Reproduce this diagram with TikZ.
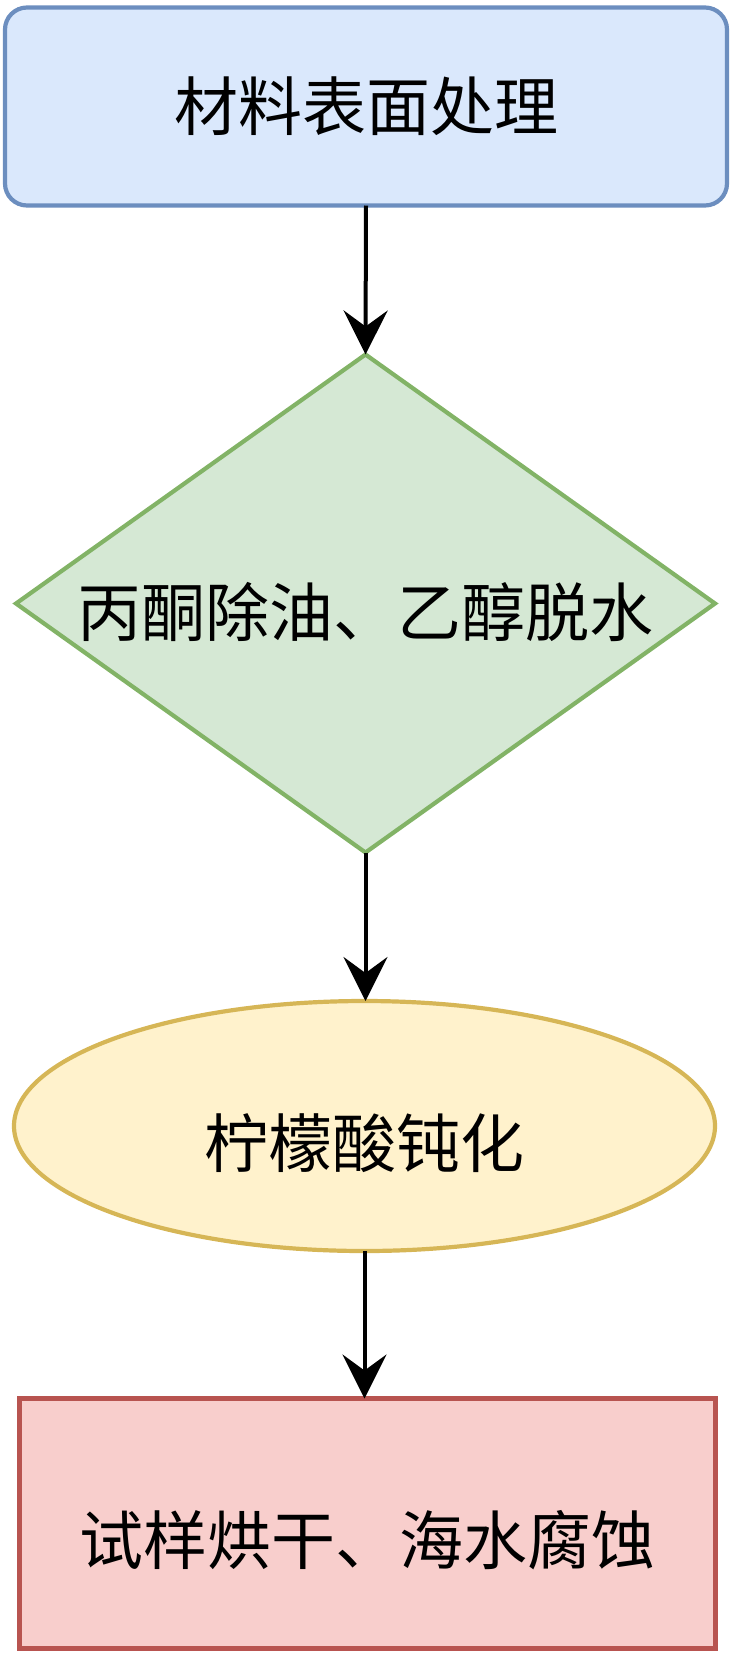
\documentclass[tikz,border=0pt]{standalone}
\usepackage{fontspec}
\newfontfamily\cjk{Noto Sans CJK SC}
\usetikzlibrary{shapes.geometric,arrows.meta}
\definecolor{bfill}{HTML}{DAE8FC}\definecolor{bline}{HTML}{6C8EBF}
\definecolor{gfill}{HTML}{D5E8D4}\definecolor{gline}{HTML}{82B366}
\definecolor{yfill}{HTML}{FFF2CC}\definecolor{yline}{HTML}{D6B656}
\definecolor{rfill}{HTML}{F8CECC}\definecolor{rline}{HTML}{B85450}
\tikzset{
  shapebox/.style={line width=4.2pt, inner sep=0pt, outer sep=0pt},
  lbl/.style={font=\cjk\fontsize{64}{76}\selectfont, text=black, inner sep=0pt},
  arr/.style={line width=4pt, -{Stealth[length=44pt, width=44pt, inset=16pt]}},
}
\begin{document}
\begin{tikzpicture}[x=1pt, y=-1pt]
\useasboundingbox (0,0) rectangle (736,1671);
\node[shapebox, rectangle, rounded corners=22pt, draw=bline, fill=bfill,
  minimum width=722pt, minimum height=198pt,
  label={[lbl, name=t1]center:材料表面处理}] (r1) at (366,106.5) {};
\node[shapebox, diamond, draw=gline, fill=gfill,
  minimum width=699pt, minimum height=498pt,
  label={[lbl, name=t2, yshift=-8pt]center:丙酮除油、乙醇脱水}] (d) at (365.5,603.5) {};
\node[shapebox, ellipse, draw=yline, fill=yfill,
  minimum width=701pt, minimum height=250pt,
  label={[lbl, name=t3, yshift=-17pt]center:柠檬酸钝化}] (e) at (364.5,1126) {};
\node[shapebox, rectangle, draw=rline, fill=rfill,
  minimum width=696pt, minimum height=250pt,
  label={[lbl, name=t4, yshift=-17pt]center:试样烘干、海水腐蚀}] (r2) at (367.5,1523.5) {};
\draw[arr] (r1.south) -- (d.north);
\draw[arr] (d.south) -- (d.south |- e.north);
\draw[arr] (e.south) -- (e.south |- r2.north);
\end{tikzpicture}
\end{document}
